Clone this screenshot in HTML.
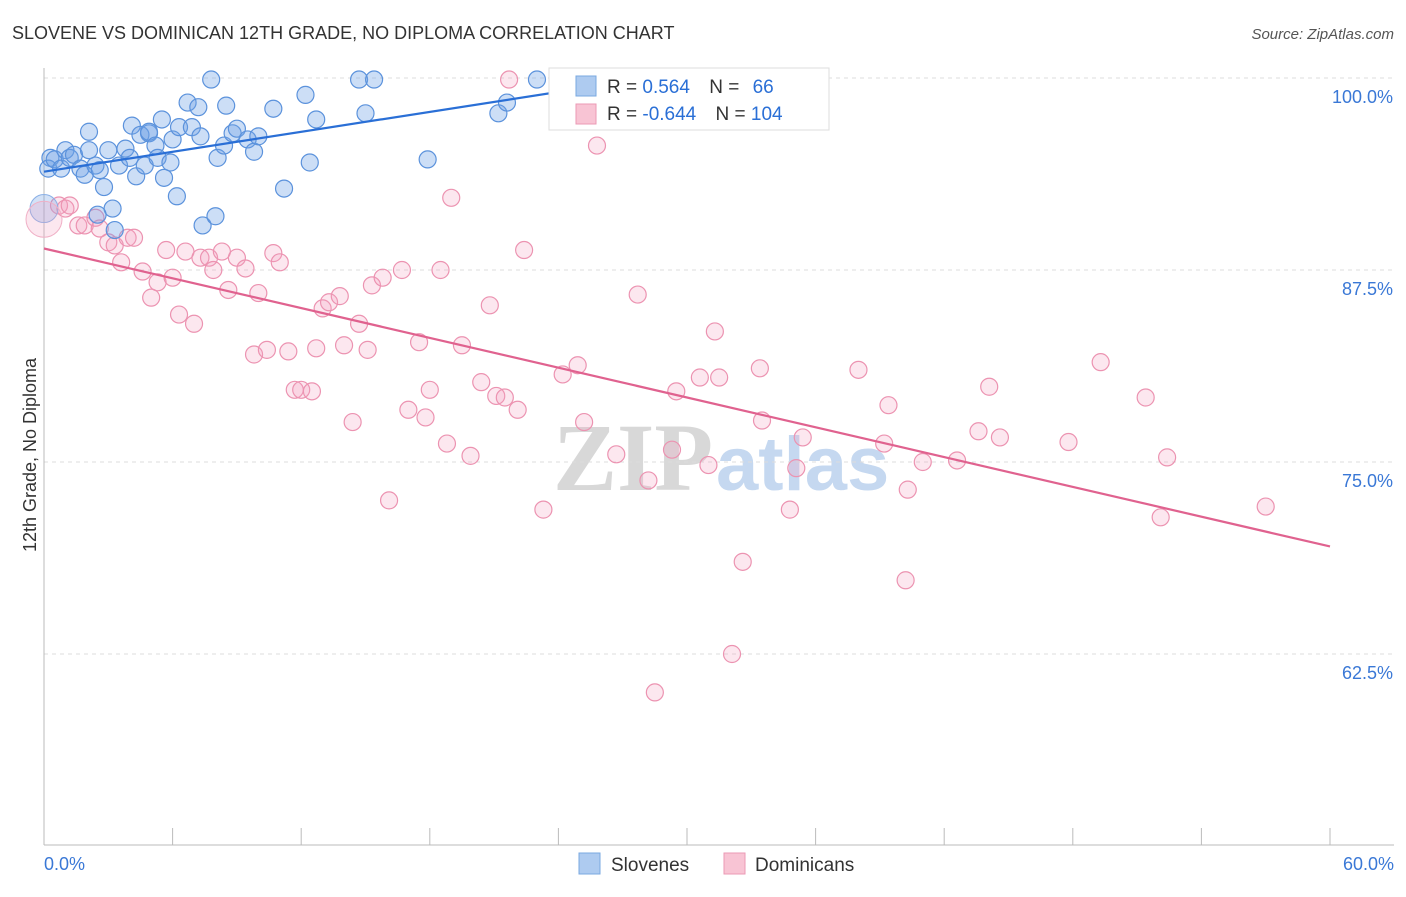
<!DOCTYPE html>
<html><head><meta charset="utf-8">
<style>
html,body{margin:0;padding:0;background:#fff;}
body{width:1406px;height:892px;overflow:hidden;font-family:"Liberation Sans",sans-serif;}
</style></head>
<body>
<svg id="chart" width="1406" height="892" xmlns="http://www.w3.org/2000/svg" style="font-family:'Liberation Sans',sans-serif">
<text x="12" y="39" font-size="18" fill="#333">SLOVENE VS DOMINICAN 12TH GRADE, NO DIPLOMA CORRELATION CHART</text>
<text x="1394" y="39" font-size="15" fill="#555" text-anchor="end" font-style="italic">Source: ZipAtlas.com</text>
<g>
<text x="553" y="490" font-size="96" fill="#d8d8d8" font-family="'Liberation Serif',serif" font-weight="bold">ZIP</text>
<text x="716" y="490" font-size="76" fill="#c5d8f0" font-weight="bold">atlas</text>
</g>
<g id="grid"></g>
<g id="axes"></g>
<g id="marks"></g>
<text transform="translate(36,455) rotate(-90)" font-size="18" fill="#333" text-anchor="middle">12th Grade, No Diploma</text>
<g>
<rect x="549" y="68" width="280" height="62" fill="#fff" stroke="#ddd"/>
<rect x="576" y="76" width="20" height="20" fill="#aecbf0" stroke="#7aa8e0"/>
<rect x="576" y="104" width="20" height="20" fill="#f8c4d4" stroke="#eb9ab5"/>
<text x="607" y="93" font-size="19" fill="#333">R = <tspan fill="#2a6fd6"> 0.564</tspan>  <tspan dx="14">N = </tspan><tspan fill="#2a6fd6" dx="8">66</tspan></text>
<text x="607" y="120" font-size="19" fill="#333">R = <tspan fill="#2a6fd6">-0.644</tspan>  <tspan dx="14">N = </tspan><tspan fill="#2a6fd6">104</tspan></text>
</g>
<g>
<rect x="579" y="853" width="21" height="21" fill="#aecbf0" stroke="#7aa8e0"/>
<text x="611" y="871" font-size="19" fill="#333">Slovenes</text>
<rect x="724" y="853" width="21" height="21" fill="#f8c4d4" stroke="#eb9ab5"/>
<text x="755" y="871" font-size="19" fill="#333">Dominicans</text>
</g>
</svg>
<script>
const yTicks=[100,87.5,75,62.5];
const yTickLabels=["100.0%","87.5%","75.0%","62.5%"];
const xEndLabels=["0.0%","60.0%"];
const blueX=[0.3,0.2,0.5,0.8,1.0,1.2,1.4,1.7,1.9,2.1,2.1,2.4,2.6,2.8,3.0,3.2,3.3,2.5,3.5,3.8,4.0,4.1,4.3,4.5,4.7,4.9,4.9,5.2,5.3,5.5,5.6,5.9,6.0,6.2,6.3,6.7,6.9,7.2,7.3,7.4,7.8,8.0,8.1,8.4,8.5,8.8,9.0,9.5,9.8,10.0,10.7,11.2,12.2,12.4,12.7,14.7,15.0,15.4,17.9,21.2,21.6,23.0,33.4];
const blueY=[94.8,94.1,94.7,94.1,95.3,94.8,95.0,94.1,93.7,95.3,96.5,94.3,94.0,92.9,95.3,91.5,90.1,91.1,94.3,95.4,94.8,96.9,93.6,96.3,94.3,96.4,96.5,95.6,94.8,97.3,93.5,94.5,96.0,92.3,96.8,98.4,96.8,98.1,96.2,90.4,99.9,91.0,94.8,95.6,98.2,96.4,96.7,96.0,95.2,96.2,98.0,92.8,98.9,94.5,97.3,99.9,97.7,99.9,94.7,97.7,98.4,99.9,99.9];
const pinkX=[0.7,1.0,1.2,1.6,1.9,2.4,2.6,3.0,3.3,3.6,3.9,4.2,4.6,5.0,5.3,5.7,6.0,6.3,6.6,7.0,7.3,7.7,7.9,8.3,8.6,9.0,9.4,9.8,10.0,10.4,10.7,11.0,11.4,11.7,12.0,12.5,12.7,13.0,13.3,13.8,14.0,14.4,14.7,15.1,15.3,15.8,16.1,16.7,17.0,17.5,17.8,18.0,18.5,18.8,19.0,19.5,19.9,20.4,20.8,21.1,21.5,22.1,22.4,23.3,24.2,24.9,25.2,25.8,26.7,27.7,28.2,28.5,29.3,29.5,30.6,31.0,31.3,31.5,32.1,32.6,33.4,33.5,34.8,35.1,35.4,38.0,39.2,39.4,40.2,40.3,41.0,42.6,43.6,44.1,44.6,47.8,49.3,51.4,52.1,52.4,57.0,21.7];
const pinkY=[91.7,91.5,91.7,90.4,90.4,90.9,90.2,89.3,89.1,88.0,89.6,89.6,87.4,85.7,86.7,88.8,87.0,84.6,88.7,84.0,88.3,88.3,87.5,88.7,86.2,88.3,87.6,82.0,86.0,82.3,88.6,88.0,82.2,79.7,79.7,79.6,82.4,85.0,85.4,85.8,82.6,77.6,84.0,82.3,86.5,87.0,72.5,87.5,78.4,82.8,77.9,79.7,87.5,76.2,92.2,82.6,75.4,80.2,85.2,79.3,79.2,78.4,88.8,71.9,80.7,81.3,77.6,95.6,75.5,85.9,73.8,60.0,75.8,79.6,80.5,74.8,83.5,80.5,62.5,68.5,81.1,77.7,71.9,74.6,76.6,81.0,76.2,78.7,67.3,73.2,75.0,75.1,77.0,79.9,76.6,76.3,81.5,79.2,71.4,75.3,72.1,99.9];
const bigX=[0,0];
const bigY=[91.5,90.8];
const blueTrendX=[0,28.2], blueTrendY=[93.9,100];
const pinkTrendX=[0,60], pinkTrendY=[88.9,69.5];

const NS="http://www.w3.org/2000/svg";
const X0=44,X1=1330,YTOP=78,PXPER=15.36;
function xs(v){return X0+(X1-X0)*v/60;}
function ys(v){return YTOP+(100-v)*PXPER;}
function mk(tag,attrs,parent){const e=document.createElementNS(NS,tag);for(const k in attrs)e.setAttribute(k,attrs[k]);parent.appendChild(e);return e;}
const grid=document.getElementById('grid'),axes=document.getElementById('axes'),marks=document.getElementById('marks');
yTicks.forEach((t,i)=>{
  const l=mk('line',{x1:X0,x2:1394,y1:ys(t),y2:ys(t),stroke:'#ddd','stroke-dasharray':'4,4'},grid);
  
  
  const tx=mk('text',{x:1393,y:ys(t)+25,'font-size':18,fill:'#3a78d6','text-anchor':'end'},axes);
  tx.textContent=yTickLabels[i];
  
  
});
const ya=mk('line',{x1:X0,x2:X0,y1:68,y2:845,stroke:'#bbb'},axes);


const xa=mk('line',{x1:X0,x2:1394,y1:845,y2:845,stroke:'#bbb'},axes);


for(let i=0;i<=10;i++){
  const t=mk('line',{x1:xs(i*6),x2:xs(i*6),y1:828,y2:845,stroke:'#bbb'},axes);
  
  
}
const xl0=mk('text',{x:44,y:870,'font-size':18,fill:'#3a78d6'},axes);xl0.textContent=xEndLabels[0];


const xl1=mk('text',{x:1394,y:870,'font-size':18,fill:'#3a78d6','text-anchor':'end'},axes);xl1.textContent=xEndLabels[1];



function pts(X,Y,fill,stroke,name,r){
  X.forEach((v,i)=>{
    const c=mk('circle',{cx:xs(v),cy:ys(Y[i]),r:r,fill:fill,stroke:stroke,'stroke-width':1.2},marks);
    
    
  });
}
pts(pinkX,pinkY,'rgba(244,160,190,0.25)','#ec93b1','dominican-point',8.5);
pts(blueX,blueY,'rgba(110,160,230,0.35)','#5b92dc','slovene-point',8.5);
const b1=mk('circle',{cx:xs(bigX[0]),cy:ys(bigY[0]),r:14,fill:'rgba(110,160,230,0.3)',stroke:'#8ab0e6'},marks);


const b2=mk('circle',{cx:xs(bigX[1]),cy:ys(bigY[1]),r:18,fill:'rgba(244,160,190,0.25)',stroke:'#f0b0c6'},marks);


const tl1=mk('line',{x1:xs(blueTrendX[0]),y1:ys(blueTrendY[0]),x2:xs(blueTrendX[1]),y2:ys(blueTrendY[1]),stroke:'#2a6fd6','stroke-width':2.2},marks);


const tl2=mk('line',{x1:xs(pinkTrendX[0]),y1:ys(pinkTrendY[0]),x2:xs(pinkTrendX[1]),y2:ys(pinkTrendY[1]),stroke:'#e0628f','stroke-width':2.2},marks);


</script>
</body></html>
